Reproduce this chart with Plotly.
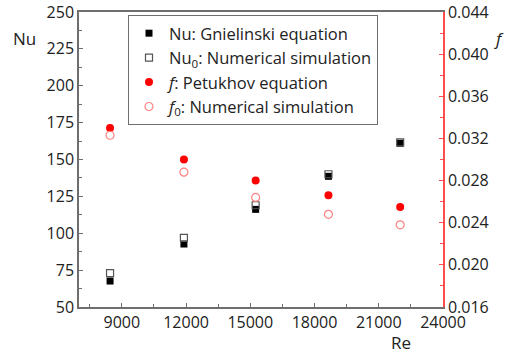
import plotly.graph_objects as go

# Reynolds numbers of the test cases
re = [8450, 11900, 15250, 18650, 22000]

# Nusselt number: correlation vs. simulation
nu_gnielinski = [67.6, 92.7, 116.2, 138.6, 161.0]
nu0_simulation = [73.0, 96.8, 119.0, 140.0, 161.6]

# Friction factor: correlation vs. simulation
f_petukhov = [0.0330, 0.0300, 0.0280, 0.0266, 0.0255]
f0_simulation = [0.0323, 0.0288, 0.0264, 0.0248, 0.0238]

FONT = "Open Sans"
GREY = "#6e6e6e"
RED = "#ff4d4d"
TXT = "#222222"

fig = go.Figure()

fig.add_trace(go.Scatter(
    x=re, y=nu_gnielinski, mode="markers", name="Nu: Gnielinski equation",
    marker=dict(symbol="square", size=7, color="black"),
))
fig.add_trace(go.Scatter(
    x=re, y=nu0_simulation, mode="markers", name="Nu<sub>0</sub>: Numerical simulation",
    marker=dict(symbol="square-open", size=7, color="#555555", line=dict(width=1.2)),
))
fig.add_trace(go.Scatter(
    x=re, y=f_petukhov, mode="markers", name="<i>f</i>: Petukhov equation", yaxis="y2",
    marker=dict(symbol="circle", size=8, color="#ff0000"),
))
fig.add_trace(go.Scatter(
    x=re, y=f0_simulation, mode="markers", name="<i>f</i><sub>0</sub>: Numerical simulation", yaxis="y2",
    marker=dict(symbol="circle-open", size=8, color="#ff8080", line=dict(width=1.2)),
))

tickfont = dict(family=FONT, size=16, color=TXT)

fig.update_layout(
    width=505, height=354,
    margin=dict(l=79, r=62, t=12, b=47, autoexpand=False),
    paper_bgcolor="white", plot_bgcolor="white",
    font=dict(family=FONT, size=16, color=TXT),
    showlegend=True,
    legend=dict(
        x=0.1346, y=0.99, xanchor="left", yanchor="top",
        bgcolor="white", bordercolor=GREY, borderwidth=1,
        font=dict(family=FONT, size=16.5, color=TXT),
        tracegroupgap=0,
    ),
    xaxis=dict(
        range=[7000, 24000], tick0=0, dtick=3000, tickformat="d",
        showline=True, linecolor=GREY, linewidth=1.5, mirror=True,
        ticks="inside", ticklen=4, tickcolor=GREY, automargin=False,
        ticklabeloverflow="allow",
        minor=dict(ticks="inside", ticklen=3, tickcolor=GREY, dtick=1500, tick0=0),
        showgrid=False, zeroline=False, tickfont=tickfont,
    ),
    yaxis=dict(
        range=[50, 250], tick0=0, dtick=25,
        showline=True, linecolor=GREY, linewidth=1.5,
        ticks="inside", ticklen=4, tickcolor=GREY, automargin=False,
        ticklabeloverflow="allow",
        minor=dict(ticks="inside", ticklen=3, tickcolor=GREY, dtick=12.5, tick0=0),
        showgrid=False, zeroline=False, tickfont=tickfont,
    ),
    yaxis2=dict(
        range=[0.016, 0.044], tick0=0, dtick=0.004, tickformat=".3f",
        overlaying="y", side="right",
        showline=True, linecolor=RED, linewidth=1.5,
        ticks="inside", ticklen=4, tickcolor=RED, automargin=False,
        ticklabeloverflow="allow",
        minor=dict(ticks="inside", ticklen=3, tickcolor=RED, dtick=0.002, tick0=0),
        showgrid=False, zeroline=False, tickfont=tickfont,
    ),
)

# Axis titles placed beside the axes
fig.add_annotation(text="Nu", xref="paper", yref="paper", x=-0.15, y=0.91,
                   showarrow=False, xanchor="center", yanchor="middle",
                   font=dict(family=FONT, size=17, color=TXT))
fig.add_annotation(text="<i>f</i>", xref="paper", yref="paper", x=1.155, y=0.91,
                   showarrow=False, xanchor="center", yanchor="middle",
                   font=dict(family=FONT, size=17, color=TXT))
fig.add_annotation(text="Re", xref="paper", yref="paper", x=0.885, y=-0.12,
                   showarrow=False, xanchor="center", yanchor="middle",
                   font=dict(family=FONT, size=17, color=TXT))

fig.write_html("out.html")
